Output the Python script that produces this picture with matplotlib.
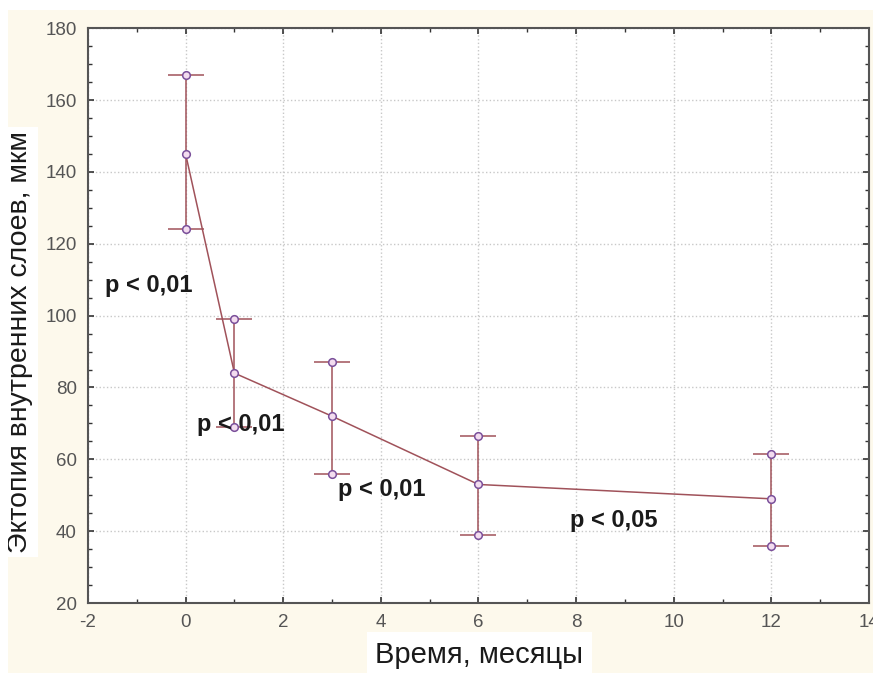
import matplotlib.pyplot as plt
from matplotlib.patches import Rectangle
from matplotlib.ticker import MultipleLocator

plt.rcParams['font.family'] = ['Liberation Sans', 'DejaVu Sans']
plt.rcParams['axes.unicode_minus'] = False

# months after treatment
months = [0, 1, 3, 6, 12]
mean_vals = [145, 84, 72, 53, 49]
upper_vals = [167, 99, 87, 66.5, 61.5]
lower_vals = [124, 69, 56, 39, 36]

p_labels = ["p < 0,01", "p < 0,01", "p < 0,01", "p < 0,05"]
p_x = [-1.65, 0.23, 3.12, 7.88]
p_y = [108.5, 69.8, 51.5, 43]

beige = '#fdf9ec'
line_col = '#a0525a'
mark_col = '#7a4f9a'

fig = plt.figure(figsize=(8.73, 6.73), dpi=100, facecolor=beige)
# white strips of the screenshot
fig.patches.append(Rectangle((0, 0.985), 1, 0.015, transform=fig.transFigure,
                             facecolor='white', edgecolor='none', zorder=0))
fig.patches.append(Rectangle((0, 0), 0.009, 1, transform=fig.transFigure,
                             facecolor='white', edgecolor='none', zorder=0))

ax = fig.add_axes([0.1008, 0.104, 0.8946, 0.854])

err_low = [m - l for m, l in zip(mean_vals, lower_vals)]
err_up = [u - m for m, u in zip(mean_vals, upper_vals)]
ax.errorbar(months, mean_vals, yerr=[err_low, err_up], color=line_col, lw=1.1,
            ecolor=line_col, elinewidth=1.1, capsize=13, capthick=1.1, zorder=3)
# circles at the mean and at the ends of whiskers
for vals in (mean_vals, upper_vals, lower_vals):
    ax.plot(months, vals, 'o', ms=5.5, mfc='#f3dcef', mec=mark_col, mew=1.1, zorder=4)

for t, x, y in zip(p_labels, p_x, p_y):
    ax.text(x, y, t, fontsize=17, fontweight='bold', color='#1a1a1a',
            ha='left', va='center', zorder=5)

ax.set_xlim(-2, 14)
ax.set_ylim(20, 180)
ax.xaxis.set_major_locator(MultipleLocator(2))
ax.xaxis.set_minor_locator(MultipleLocator(1))
ax.yaxis.set_major_locator(MultipleLocator(20))
ax.yaxis.set_minor_locator(MultipleLocator(5))
ax.tick_params(which='both', direction='in', top=True, right=True,
               color='#333333', labelsize=13.5, labelcolor='#555555')
ax.tick_params(which='major', length=4, width=1.2, pad=8)
ax.tick_params(which='minor', length=3, width=1)
ax.grid(True, which='major', linestyle=':', color='#c8c8c8', lw=1)
for s in ax.spines.values():
    s.set_color('#555555')
    s.set_linewidth(1.5)

ax.set_xlabel('Время, месяцы', fontsize=21, color='#1a1a1a', va='center',
              bbox=dict(facecolor='white', edgecolor='none', pad=6))
ax.xaxis.set_label_coords(0.501, -0.090)
ax.set_ylabel('Эктопия внутренних слоев, мкм', fontsize=20.5, color='#1a1a1a',
              va='center', bbox=dict(facecolor='white', edgecolor='none', pad=3))
ax.yaxis.set_label_coords(-0.0865, 0.454)

fig.savefig('out.png', dpi=100, facecolor=beige)
